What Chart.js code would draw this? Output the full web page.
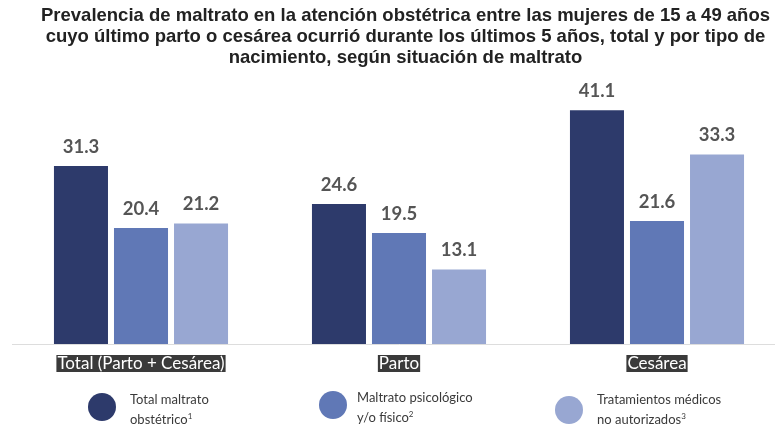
<!DOCTYPE html>
<html>
<head>
<meta charset="utf-8">
<script src="https://cdn.jsdelivr.net/npm/chart.js@4.4.1/dist/chart.umd.min.js"></script>
<style>
  body { margin: 0; background: #fff; }
  #wrap { position: relative; width: 775px; height: 427px; overflow: hidden; }
  #titulo {
    position: absolute; left: 18px; top: 4px; width: 775px; text-align: center;
    font-family: "Liberation Sans", Arial, sans-serif; font-weight: bold;
    font-size: 18.5px; line-height: 21px; color: #222; white-space: nowrap;
  }
  #grafica { position: absolute; left: 0; top: 0; }
  .ley { position: absolute; font-family: Lato, "Open Sans", sans-serif; font-size: 13px; line-height: 17px; color: #3a3a3a; white-space: nowrap; }
  .ley .punto { position: absolute; border-radius: 50%; width: 28px; height: 28px; }
  .ley sup { font-size: 8px; }
</style>
</head>
<body>
<div id="wrap">
  <canvas id="grafica" width="786" height="427"></canvas>
  <div id="titulo">Prevalencia de maltrato en la atención obstétrica entre las mujeres de 15 a 49 años<br>cuyo último parto o cesárea ocurrió durante los últimos 5 años, total y por tipo de<br>nacimiento, según situación de maltrato</div>
  <div class="ley" style="left:88px; top:391px;"><span class="punto" style="left:0; top:2px; background:#2d3a6b"></span><div style="margin-left:42px">Total maltrato<br>obstétrico<sup>1</sup></div></div>
  <div class="ley" style="left:319px; top:389px;"><span class="punto" style="left:0; top:2px; background:#6078b6"></span><div style="margin-left:38px">Maltrato psicológico<br>y/o físico<sup>2</sup></div></div>
  <div class="ley" style="left:555px; top:391px;"><span class="punto" style="left:0; top:5px; background:#98a7d2"></span><div style="margin-left:42px">Tratamientos médicos<br>no autorizados<sup>3</sup></div></div>
</div>
<script>
// categorias y series (porcentajes)
var categorias = ["Total (Parto + Cesárea)", "Parto", "Cesárea"];
var series = ["Total maltrato obstétrico", "Maltrato psicológico y/o físico", "Tratamientos médicos no autorizados"];
var totalMaltrato = [31.3, 24.6, 41.1];
var psicologico = [20.4, 19.5, 21.6];
var noAutorizados = [21.2, 13.1, 33.3];
var colores = ["#2d3a6b", "#6078b6", "#98a7d2"];

// etiquetas de valor arriba de cada barra
var etiquetas = {
  id: "etiquetas",
  afterDatasetsDraw: function(chart) {
    var ctx = chart.ctx;
    ctx.save();
    ctx.font = "bold 18.5px Lato, sans-serif";
    ctx.fillStyle = "#555";
    ctx.textAlign = "center";
    ctx.textBaseline = "bottom";
    chart.data.datasets.forEach(function(ds, i) {
      chart.getDatasetMeta(i).data.forEach(function(bar, j) {
        ctx.fillText(ds.data[j].toFixed(1), bar.x, bar.y - 10);
      });
    });
    ctx.restore();
  }
};

new Chart("grafica", {
  type: "bar",
  data: {
    labels: categorias,
    datasets: [
      { label: series[0], data: totalMaltrato, backgroundColor: colores[0] },
      { label: series[1], data: psicologico, backgroundColor: colores[1] },
      { label: series[2], data: noAutorizados, backgroundColor: colores[2] }
    ]
  },
  options: {
    responsive: false,
    animation: false,
    layout: { padding: { top: 88, left: 12, right: 0, bottom: 44 } },
    datasets: { bar: { categoryPercentage: 0.698, barPercentage: 0.9 } },
    plugins: {
      legend: { display: false },
      title: { display: false },
      tooltip: { enabled: false }
    },
    scales: {
      x: {
        grid: { display: false, drawTicks: false },
        border: { display: true, color: "#ddd", width: 1 },
        ticks: {
          color: "#fff",
          font: { family: "Lato, sans-serif", size: 17, lineHeight: 1 },
          padding: 11,
          showLabelBackdrop: true,
          backdropColor: "#3a3a3a",
          backdropPadding: { x: 1, y: 0 }
        }
      },
      y: { display: false, min: 0, max: 45 }
    }
  },
  plugins: [etiquetas]
});
</script>
</body>
</html>
